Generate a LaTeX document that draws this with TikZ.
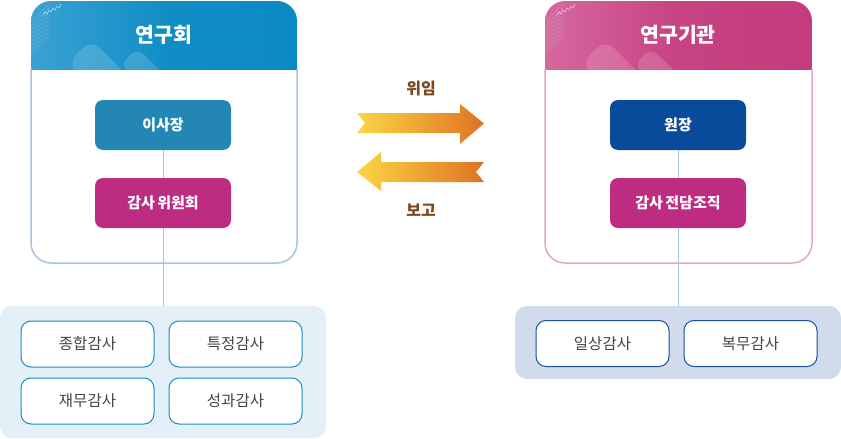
\documentclass[tikz,border=0pt]{standalone}
\usepackage{fontspec}
\setmainfont{Noto Sans CJK KR}
\definecolor{headBlue}{HTML}{0A8AC4}
\definecolor{headBlueLight}{HTML}{3AA2D3}
\definecolor{borderL}{HTML}{A9C3E2}
\definecolor{isaColor}{HTML}{2386B5}
\definecolor{magColor}{HTML}{BE2C82}
\definecolor{bottomL}{HTML}{E3F0F8}
\definecolor{boxBorderL}{HTML}{1A8DC8}
\definecolor{headPink}{HTML}{C43C7D}
\definecolor{headPinkLight}{HTML}{D6689F}
\definecolor{borderR}{HTML}{E6A3C6}
\definecolor{wonColor}{HTML}{0A4A9A}
\definecolor{bottomR}{HTML}{D0DCEC}
\definecolor{boxBorderR}{HTML}{1A4E9A}
\definecolor{txtGray}{HTML}{444444}
\definecolor{arrY}{HTML}{FAD646}
\definecolor{arrO}{HTML}{E07222}
\definecolor{lblBrown}{HTML}{7B4A1C}
\tikzset{
  title/.style={text=white,font=\fontsize{20.5}{24}\selectfont\bfseries},
  rolebox/.style={rounded corners=8pt,minimum width=136pt,minimum height=50pt,inner sep=0pt,text=white,font=\fontsize{15}{18}\selectfont\bfseries},
  auditbox/.style={rounded corners=10pt,fill=white,line width=1pt,minimum width=133pt,minimum height=46pt,inner sep=0pt,text=txtGray,font=\fontsize{15.5}{18}\selectfont},
  container/.style={rounded corners=12pt,inner sep=0pt},
  arrlabel/.style={text=lblBrown,font=\fontsize{16}{19}\selectfont\bfseries},
  link/.style={line width=0.8pt},
  deco/.style={white,opacity=0.15}
}
\newcommand{\narrowgap}{\hspace{0.16em}}
\begin{document}
\begin{tikzpicture}[x=1pt,y=-1pt]
\useasboundingbox (0,0) rectangle (841,439);

% ---------- left panel ----------
\begin{scope}
\clip[rounded corners=20pt] (31,1) rectangle (297,263);
\shade[left color=headBlueLight,right color=headBlue,middle color=headBlue!85!headBlueLight] (31,1) rectangle (297,69);
\fill[deco,rounded corners=12pt,rotate around={-45:(95,60)}] (78,48) rectangle (140,82);
\fill[deco,rounded corners=9pt,rotate around={-45:(140,62)}] (128,54) rectangle (175,78);
\foreach \i in {0,4,...,32} {\draw[white,opacity=0.2,line width=0.5pt] (31,22+\i) -- (50,3+\i);}
\draw[white,opacity=0.6,line width=0.6pt] (43,15) -- (45,12) -- (47,14) -- (49,10) -- (51,12) -- (53,8) -- (55,10) -- (57,6) -- (59,8) -- (61,4);
\end{scope}
\draw[borderL,line width=1.5pt,rounded corners=20pt] (31,69) -- (31,263) -- (297,263) -- (297,69);
\node[title] (tL) at (164,35) {연구회};

% ---------- right panel ----------
\begin{scope}
\clip[rounded corners=20pt] (545,1) rectangle (812,263);
\shade[left color=headPinkLight,right color=headPink,middle color=headPink!85!headPinkLight] (545,1) rectangle (812,69);
\fill[deco,rounded corners=12pt,rotate around={-45:(609,60)}] (592,48) rectangle (654,82);
\fill[deco,rounded corners=9pt,rotate around={-45:(654,62)}] (642,54) rectangle (689,78);
\foreach \i in {0,4,...,32} {\draw[white,opacity=0.2,line width=0.5pt] (545,22+\i) -- (564,3+\i);}
\draw[white,opacity=0.6,line width=0.6pt] (557,15) -- (559,12) -- (561,14) -- (563,10) -- (565,12) -- (567,8) -- (569,10) -- (571,6) -- (573,8) -- (575,4);
\end{scope}
\draw[borderR,line width=1.5pt,rounded corners=20pt] (545,69) -- (545,263) -- (812,263) -- (812,69);
\node[title] (tR) at (678,35) {연구기관};

% ---------- bottom containers ----------
\node[container,fill=bottomL,minimum width=326pt,minimum height=132pt] (botL) at (163,372) {};
\node[container,fill=bottomR,minimum width=326pt,minimum height=73pt] (botR) at (678,342.5) {};

% ---------- role boxes ----------
\node[rolebox,fill=isaColor] (isa) at (163,125) {이사장};
\node[rolebox,fill=wonColor] (won) at (678,125) {원장};

% connectors (behind the magenta boxes)
\draw[borderL,link] (isa.south) -- (botL.north);
\draw[borderL,link] (won.south) -- (botR.north);
\node[rolebox,fill=magColor] (gamL) at (163,203) {감사\narrowgap 위원회};
\node[rolebox,fill=magColor] (gamR) at (678,203) {감사\narrowgap 전담조직};

% ---------- audit boxes ----------
\node[auditbox,draw=boxBorderL] (a1) at (87.5,344) {종합감사};
\node[auditbox,draw=boxBorderL] (a2) at (235.5,344) {특정감사};
\node[auditbox,draw=boxBorderL] (a3) at (87.5,401) {재무감사};
\node[auditbox,draw=boxBorderL] (a4) at (235.5,401) {성과감사};
\node[auditbox,draw=boxBorderR] (b1) at (602.5,343.5) {일상감사};
\node[auditbox,draw=boxBorderR] (b2) at (750.5,343.5) {복무감사};

% ---------- arrows ----------
\shade[left color=arrY,right color=arrO]
  (357,113) -- (460,113) -- (460,104) -- (484,123.5) -- (460,144) -- (460,133) -- (357,133) -- (365,123) -- cycle;
\shade[left color=arrY,right color=arrO]
  (484,162) -- (381,162) -- (381,152) -- (357,172) -- (381,191) -- (381,182) -- (484,182) -- (476,172) -- cycle;
\node[arrlabel] (l1) at (421,88) {위임};
\node[arrlabel] (l2) at (421,210) {보고};
\end{tikzpicture}
\end{document}
